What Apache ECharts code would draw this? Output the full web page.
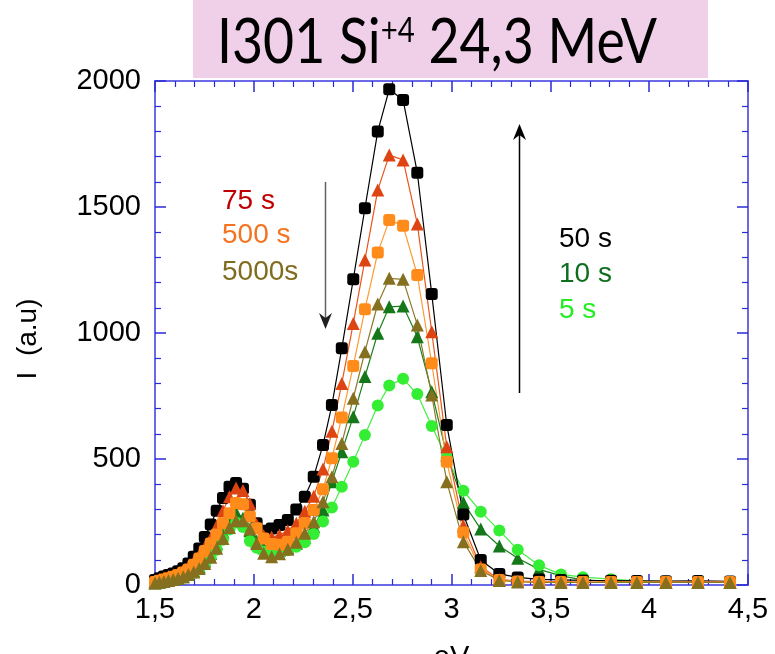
<!DOCTYPE html>
<html>
<head>
<meta charset="utf-8">
<script src="https://cdn.jsdelivr.net/npm/echarts@6/dist/echarts.min.js"></script>
<style>html,body{margin:0;padding:0;background:#fff}#c{width:775px;height:654px}</style>
</head>
<body>
<div id="c"></div>
<script>
// Photon energy (eV) of the measured points
const energy = [1.500,1.522,1.545,1.568,1.592,1.617,1.643,1.669,1.696,1.724,1.752,1.782,1.812,1.844,1.877,1.910,1.945,1.980,2.014,2.050,2.090,2.130,2.172,2.215,2.258,2.303,2.350,2.395,2.445,2.503,2.562,2.627,2.685,2.755,2.827,2.900,2.976,3.060,3.148,3.242,3.335,3.443,3.554,3.665,3.807,3.938,4.085,4.247,4.409];

const s50 = [20,27,34,40,46,55,66,85,112,145,190,240,295,345,390,405,382,318,245,215,224,238,258,300,350,430,556,714,939,1213,1495,1800,1967,1925,1636,1155,635,280,99,44,30,22,20,18,17,16,15,16,14];
const s75 = [15,22,28,34,40,48,58,72,92,120,150,185,234,295,350,385,375,322,240,195,190,198,215,245,293,352,460,610,800,1038,1290,1567,1706,1687,1433,1005,549,235,72,22,15,13,13,12,12,12,12,12,12];
const s500 = [12,17,22,27,33,40,50,62,80,105,135,165,200,245,285,325,320,272,225,185,163,160,172,205,245,298,380,503,665,869,1094,1319,1448,1426,1230,880,489,208,62,20,14,12,12,12,12,12,12,12,12];
const s5000 = [8,11,14,18,22,27,33,42,52,65,85,110,146,185,228,255,255,222,165,126,112,124,142,170,205,251,330,430,562,741,926,1115,1217,1213,1032,754,410,172,58,18,12,10,10,10,10,10,10,10,10];
const s10 = [8,11,14,18,22,27,33,42,55,72,95,125,165,210,255,288,265,215,175,148,135,138,148,165,190,232,298,410,529,668,827,999,1104,1107,985,767,516,327,222,155,106,62,36,20,14,12,11,10,10];
const s5 = [8,10,13,16,20,24,30,38,48,62,82,108,140,180,220,248,230,175,148,132,126,126,138,152,170,202,252,308,390,489,595,712,792,818,758,631,505,374,291,216,140,78,42,31,23,16,14,12,12];

const xTicks = ['1,5','2','2,5','3','3,5','4','4,5'];
const yTicks = ['0','500','1000','1500','2000'];

const FONT = "'Liberation Sans', Arial, sans-serif";
const TFONT = "Lato, 'Open Sans', sans-serif";
const chart = echarts.init(document.getElementById('c'), null, {renderer:'canvas'});

function pts(ys){ return energy.map((e,i)=>[e, ys[i]]); }

function mk(name, ys, lineColor, markColor, symbol, size){
  return {
    name, type:'line', data: pts(ys), xAxisIndex:0, yAxisIndex:0,
    symbol, symbolSize:size, showSymbol:true, showAllSymbol:true,
    lineStyle:{color:lineColor, width:1.2},
    itemStyle:{color:markColor},
    animation:false, z:2
  };
}

const axisBlue = '#6a6ae6';
const tickBlue = '#2a2ad8';
function xAx(pos, show){
  return {
    type:'value', min:1.5, max:4.5, interval:0.5, position:pos,
    axisLine:{show:true, onZero:false, lineStyle:{color:axisBlue, width:2}},
    axisTick:{show:true, inside:true, length:11, lineStyle:{color:tickBlue, width:1.5}},
    minorTick:{show:true, splitNumber:5, length:6, lineStyle:{color:tickBlue, width:1.2}},
    splitLine:{show:false},
    axisLabel:{show:show, fontSize:29, color:'#000', fontFamily:FONT, margin:10,
      formatter:(v)=>{ const i=Math.round((v-1.5)/0.5); return xTicks[i]; }},
    name: show ? 'eV' : '', nameLocation:'middle', nameGap:58,
    nameTextStyle:{fontSize:29, color:'#000', fontFamily:FONT}
  };
}
function yAx(pos, show){
  return {
    type:'value', min:0, max:2000, interval:500, position:pos,
    axisLine:{show:true, onZero:false, lineStyle:{color:axisBlue, width:2}},
    axisTick:{show:true, inside:true, length:11, lineStyle:{color:tickBlue, width:1.5}},
    minorTick:{show:true, splitNumber:5, length:6, lineStyle:{color:tickBlue, width:1.2}},
    splitLine:{show:false},
    axisLabel:{show:show, fontSize:29, color:'#000', fontFamily:FONT, margin:14,
      formatter:(v)=>yTicks[Math.round(v/500)]}
  };
}

// Title pieces measured so the string can be fitted into the pink box
const titleMain1 = 'I301 Si', titleSup = '+4', titleMain2 = ' 24,3 MeV';
const MAIN_SIZE = 62, SUP_SIZE = 34;
const mctx = document.createElement('canvas').getContext('2d');
function tw(t, size){ mctx.font = size + 'px ' + TFONT; return mctx.measureText(t).width; }
const w1 = tw(titleMain1, MAIN_SIZE), w2 = tw(titleSup, SUP_SIZE), w3 = tw(titleMain2, MAIN_SIZE);
const totalW = w1 + w2 + w3;
const targetW = 440;
const sx = targetW / totalW;
const titleLeft = 217;

const option = {
  backgroundColor:'#fff',
  animation:false,
  grid:{left:155, right:27, top:81, bottom:69, containLabel:false, outerBoundsMode:'none'},
  xAxis:[xAx('bottom', true), xAx('top', false)],
  yAxis:[yAx('left', true), yAx('right', false)],
  series:[
    mk('10 s', s10, '#1a801a', '#14781a', 'triangle', 13),
    mk('5 s', s5, '#44ee44', '#33ee33', 'circle', 12),
    mk('50 s', s50, '#000000', '#000000', 'roundRect', 12),
    mk('75 s', s75, '#e8561e', '#dd4411', 'triangle', 13),
    mk('500 s', s500, '#ff9a33', '#ff8c1a', 'roundRect', 12),
    mk('5000s', s5000, '#8a7a2a', '#857020', 'triangle', 13)
  ],
  graphic:[
    {type:'rect', shape:{x:193, y:0, width:515, height:78}, style:{fill:'#f0d0e8'}, z:10},
    {type:'group', x:titleLeft, y:0, scaleX:sx, z:11, children:[
      {type:'text', x:0, y:43, z:11, style:{text:titleMain1, font: MAIN_SIZE+'px '+TFONT, fill:'#000', align:'left', verticalAlign:'middle'}},
      {type:'text', x:w1, y:31, z:11, style:{text:titleSup, font: SUP_SIZE+'px '+TFONT, fill:'#000', align:'left', verticalAlign:'middle'}},
      {type:'text', x:w1+w2, y:43, z:11, style:{text:titleMain2, font: MAIN_SIZE+'px '+TFONT, fill:'#000', align:'left', verticalAlign:'middle'}}
    ]},
    {type:'text', x:28, y:339, rotation:Math.PI/2, z:11,
      style:{text:'I  (a.u)', fontSize:28, fontFamily:FONT, fill:'#000', align:'center', verticalAlign:'middle'}},
    {type:'text', x:222, y:215, z:11, style:{text:'75 s', fontSize:28, fontFamily:FONT, fill:'#c00000', verticalAlign:'bottom'}},
    {type:'text', x:222, y:249, z:11, style:{text:'500 s', fontSize:28, fontFamily:FONT, fill:'#f5731f', verticalAlign:'bottom'}},
    {type:'text', x:222, y:286, z:11, style:{text:'5000s', fontSize:28, fontFamily:FONT, fill:'#7f6c1e', verticalAlign:'bottom'}},
    {type:'text', x:559, y:253, z:11, style:{text:'50 s', fontSize:28, fontFamily:FONT, fill:'#000000', verticalAlign:'bottom'}},
    {type:'text', x:559, y:288, z:11, style:{text:'10 s', fontSize:28, fontFamily:FONT, fill:'#0f6e1e', verticalAlign:'bottom'}},
    {type:'text', x:559, y:324, z:11, style:{text:'5 s', fontSize:28, fontFamily:FONT, fill:'#22ee22', verticalAlign:'bottom'}},
    {type:'line', shape:{x1:325.5, y1:182, x2:325.5, y2:326}, style:{stroke:'#606060', lineWidth:1.5}, z:11},
    {type:'polygon', shape:{points:[[325.5,329],[319,313],[325.5,318],[332,313]]}, style:{fill:'#202020'}, z:11},
    {type:'line', shape:{x1:519.5, y1:393, x2:519.5, y2:128}, style:{stroke:'#000', lineWidth:1.5}, z:11},
    {type:'polygon', shape:{points:[[519.5,124],[513,140],[519.5,135],[526,140]]}, style:{fill:'#000'}, z:11}
  ]
};
chart.setOption(option);
</script>
</body>
</html>
